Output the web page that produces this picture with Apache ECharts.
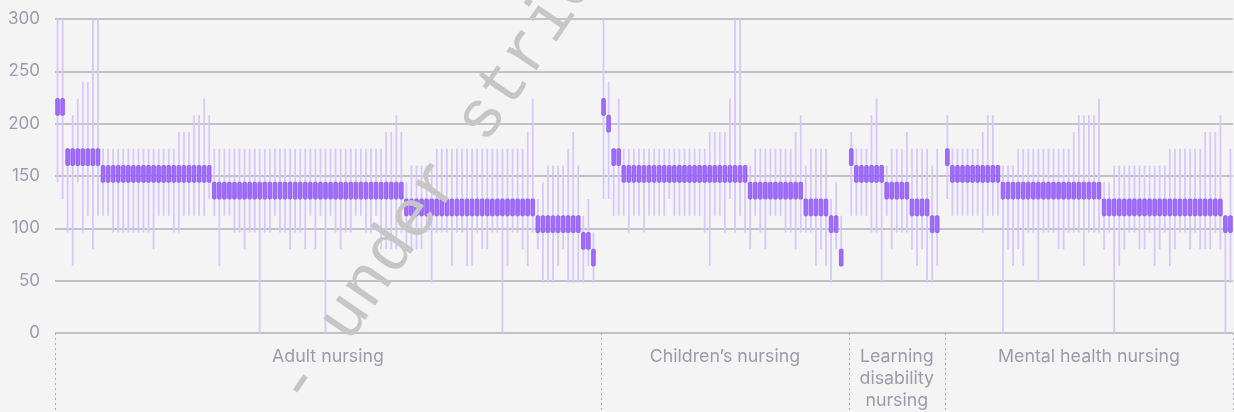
<!DOCTYPE html>
<html>
<head>
<meta charset="utf-8">
<script src="https://cdn.jsdelivr.net/npm/echarts@6/dist/echarts.min.js"></script>
<style>
  html, body { margin: 0; padding: 0; background: #f4f4f4; }
  #chart { width: 1234px; height: 412px; }
</style>
</head>
<body>
<div id="chart"></div>
<script>
// groups along the x axis (each ends with one empty slot except the last)
var groupNames = ['Adult nursing', 'Children’s nursing', 'Learning disability nursing', 'Mental health nursing'];
var groupSizes = [108, 49, 19, 57];

// height of the dark band
var BAND = 16;

// lower edge of the dark band, one per course
var boxLow = [
  // Adult nursing
  208,208,
  160,160,160,160,160,160,160,
  144,144,144,144,144,144,144,144,144,144,144,144,144,144,144,144,144,144,144,144,144,144,
  128,128,128,128,128,128,128,128,128,128,128,128,128,128,128,128,128,128,128,128,
  128,128,128,128,128,128,128,128,128,128,128,128,128,128,128,128,128,128,
  112,112,112,112,112,112,112,112,112,112,112,112,112,112,112,112,112,112,112,112,112,112,112,112,112,112,
  96,96,96,96,96,96,96,96,96,
  80,80,64,null,
  // Children's nursing
  208,192,160,160,
  144,144,144,144,144,144,144,144,144,144,144,144,144,144,144,144,144,144,144,144,144,144,144,144,144,
  128,128,128,128,128,128,128,128,128,128,128,
  112,112,112,112,112,
  96,96,64,null,
  // Learning disability nursing
  160,144,144,144,144,144,144,128,128,128,128,128,112,112,112,112,96,96,null,
  // Mental health nursing
  160,
  144,144,144,144,144,144,144,144,144,144,
  128,128,128,128,128,128,128,128,128,128,128,128,128,128,128,128,128,128,128,128,
  112,112,112,112,112,112,112,112,112,112,112,112,112,112,112,112,112,112,112,112,112,112,112,112,
  96,96
];

// bottom of the thin range line
var rangeLow = [
  // Adult nursing
  144,128,96,64,144,96,112,80,112,
  112,112,96,96,96,96,96,96,96,96,80,112,112,112,96,96,112,112,112,112,112,128,
  112,64,112,112,96,96,80,96,96,0,96,96,112,96,96,80,96,96,80,112,80,112,0,112,96,80,96,96,
  112,112,96,96,112,80,80,80,80,96,
  80,80,80,80,96,48,96,96,96,64,96,96,64,64,96,80,80,96,96,0,64,96,96,80,64,96,
  80,48,48,48,64,80,48,48,48,
  48,64,48,null,
  // Children's nursing
  128,128,112,112,
  112,96,112,112,96,112,112,112,112,128,112,112,112,112,112,112,96,64,112,112,96,128,96,112,96,
  80,112,96,80,112,112,112,96,96,80,96,
  96,96,64,80,64,
  48,80,64,null,
  // Learning disability nursing
  112,112,112,112,96,96,48,112,80,96,96,96,80,64,80,48,48,64,null,
  // Mental health nursing
  128,
  112,112,112,112,112,112,96,112,112,112,
  0,80,64,80,64,96,96,48,96,96,96,80,80,96,96,96,64,96,96,96,
  80,96,0,64,80,96,96,80,80,96,64,80,96,64,80,96,96,80,96,80,80,80,96,80,
  0,48
];

// top of the thin range line
var rangeHigh = [
  // Adult nursing
  300,300,176,208,224,240,240,300,300,
  176,176,176,176,176,176,176,176,176,176,176,176,176,176,176,192,192,192,208,208,224,208,
  176,176,176,176,176,176,176,176,176,176,176,176,176,176,176,176,176,176,176,176,
  176,176,176,176,176,176,176,176,176,176,176,176,176,176,192,192,208,192,
  144,160,160,160,160,160,176,176,176,176,176,176,176,176,176,176,176,176,176,176,176,176,176,176,192,224,
  128,144,160,160,160,160,176,192,160,
  112,128,96,null,
  // Children's nursing
  300,240,176,224,
  176,176,176,176,176,176,176,176,176,176,176,176,176,176,176,176,176,192,192,192,192,224,300,300,160,
  160,176,176,176,176,176,176,176,176,192,208,
  160,176,176,176,176,
  128,144,112,null,
  // Learning disability nursing
  192,176,176,176,208,224,160,160,176,176,176,192,176,176,176,176,160,176,null,
  // Mental health nursing
  208,
  176,176,176,176,176,176,192,208,208,160,
  160,160,160,176,176,176,176,176,176,176,176,176,176,176,192,208,208,208,208,224,
  144,144,160,160,160,160,160,160,160,160,160,160,160,176,176,176,176,176,176,176,192,192,192,208,
  112,176
];

var yMin = 0, yMax = 300, yStep = 50;

var categories = [];
var boundaries = [0];
var centers = [];
groupNames.forEach(function (name, g) {
  var start = boundaries[boundaries.length - 1];
  for (var i = 0; i < groupSizes[g]; i++) categories.push(name + ' ' + (i + 1));
  boundaries.push(start + groupSizes[g]);
  centers.push(start + groupSizes[g] / 2);
});

var items = [];
boxLow.forEach(function (b, i) {
  if (b == null) return;
  items.push([i, rangeLow[i], rangeHigh[i], b]);
});

var chart = echarts.init(document.getElementById('chart'));
chart.setOption({
  backgroundColor: '#f4f4f4',
  animation: false,
  grid: { left: 55, right: 1, top: 19, bottom: 79 },
  xAxis: [
    {
      type: 'category',
      position: 'top',
      data: categories,
      show: false
    },
    {
      type: 'value',
      position: 'bottom',
      min: 0,
      max: categories.length,
      axisLine: { show: false },
      splitLine: { show: false },
      axisTick: {
        show: true,
        customValues: boundaries,
        length: 80,
        lineStyle: { color: '#a9a9b2', width: 1, type: [2, 3] }
      },
      axisLabel: {
        customValues: centers,
        margin: 13,
        color: '#9b9caa',
        fontSize: 17.8,
        lineHeight: 22,
        fontFamily: 'Inter',
        formatter: function (v) {
          var g = centers.indexOf(v);
          if (g < 0) return '';
          var name = groupNames[g];
          return groupSizes[g] < 25 ? name.split(' ').join('\n') : name;
        }
      }
    }
  ],
  yAxis: {
    type: 'value',
    min: yMin,
    max: yMax,
    interval: yStep,
    axisLine: { show: false },
    axisTick: { show: false },
    axisLabel: { margin: 15, color: '#9b9caa', fontSize: 17, fontFamily: 'Inter' },
    splitLine: { lineStyle: { color: '#b0b0b8', width: 1.5 } }
  },
  series: [
    {
      type: 'custom',
      xAxisIndex: 0,
      clip: true,
      encode: { x: 0, y: [1, 2, 3] },
      data: items,
      renderItem: function (params, api) {
        var idx = api.value(0);
        var top = api.coord([idx, api.value(2)]);
        var bottom = api.coord([idx, api.value(1)]);
        var b0 = api.coord([idx, api.value(3)]);
        var b1 = api.coord([idx, api.value(3) + BAND]);
        var slot = api.size([1, 0])[0];
        var bw = slot * 0.72;
        return {
          type: 'group',
          children: [
            {
              type: 'rect',
              shape: { x: top[0] - 0.9, y: top[1], width: 1.8, height: bottom[1] - top[1] },
              style: { fill: '#d6c8fd' }
            },
            {
              type: 'rect',
              shape: { x: b1[0] - bw / 2, y: b1[1], width: bw, height: b0[1] - b1[1], r: 1 },
              style: { fill: '#a06cff', stroke: '#8c55f2', lineWidth: 0.8 }
            }
          ]
        };
      }
    }
  ],
  graphic: [
    {
      type: 'text',
      x: 289,
      y: 400,
      rotation: 0.97,
      z: 100,
      silent: true,
      style: {
        text: '- under strict embargo -',
        font: '67px "Liberation Mono"',
        fill: '#c6c6c6',
        align: 'left',
        verticalAlign: 'middle'
      }
    }
  ]
});
</script>
</body>
</html>
